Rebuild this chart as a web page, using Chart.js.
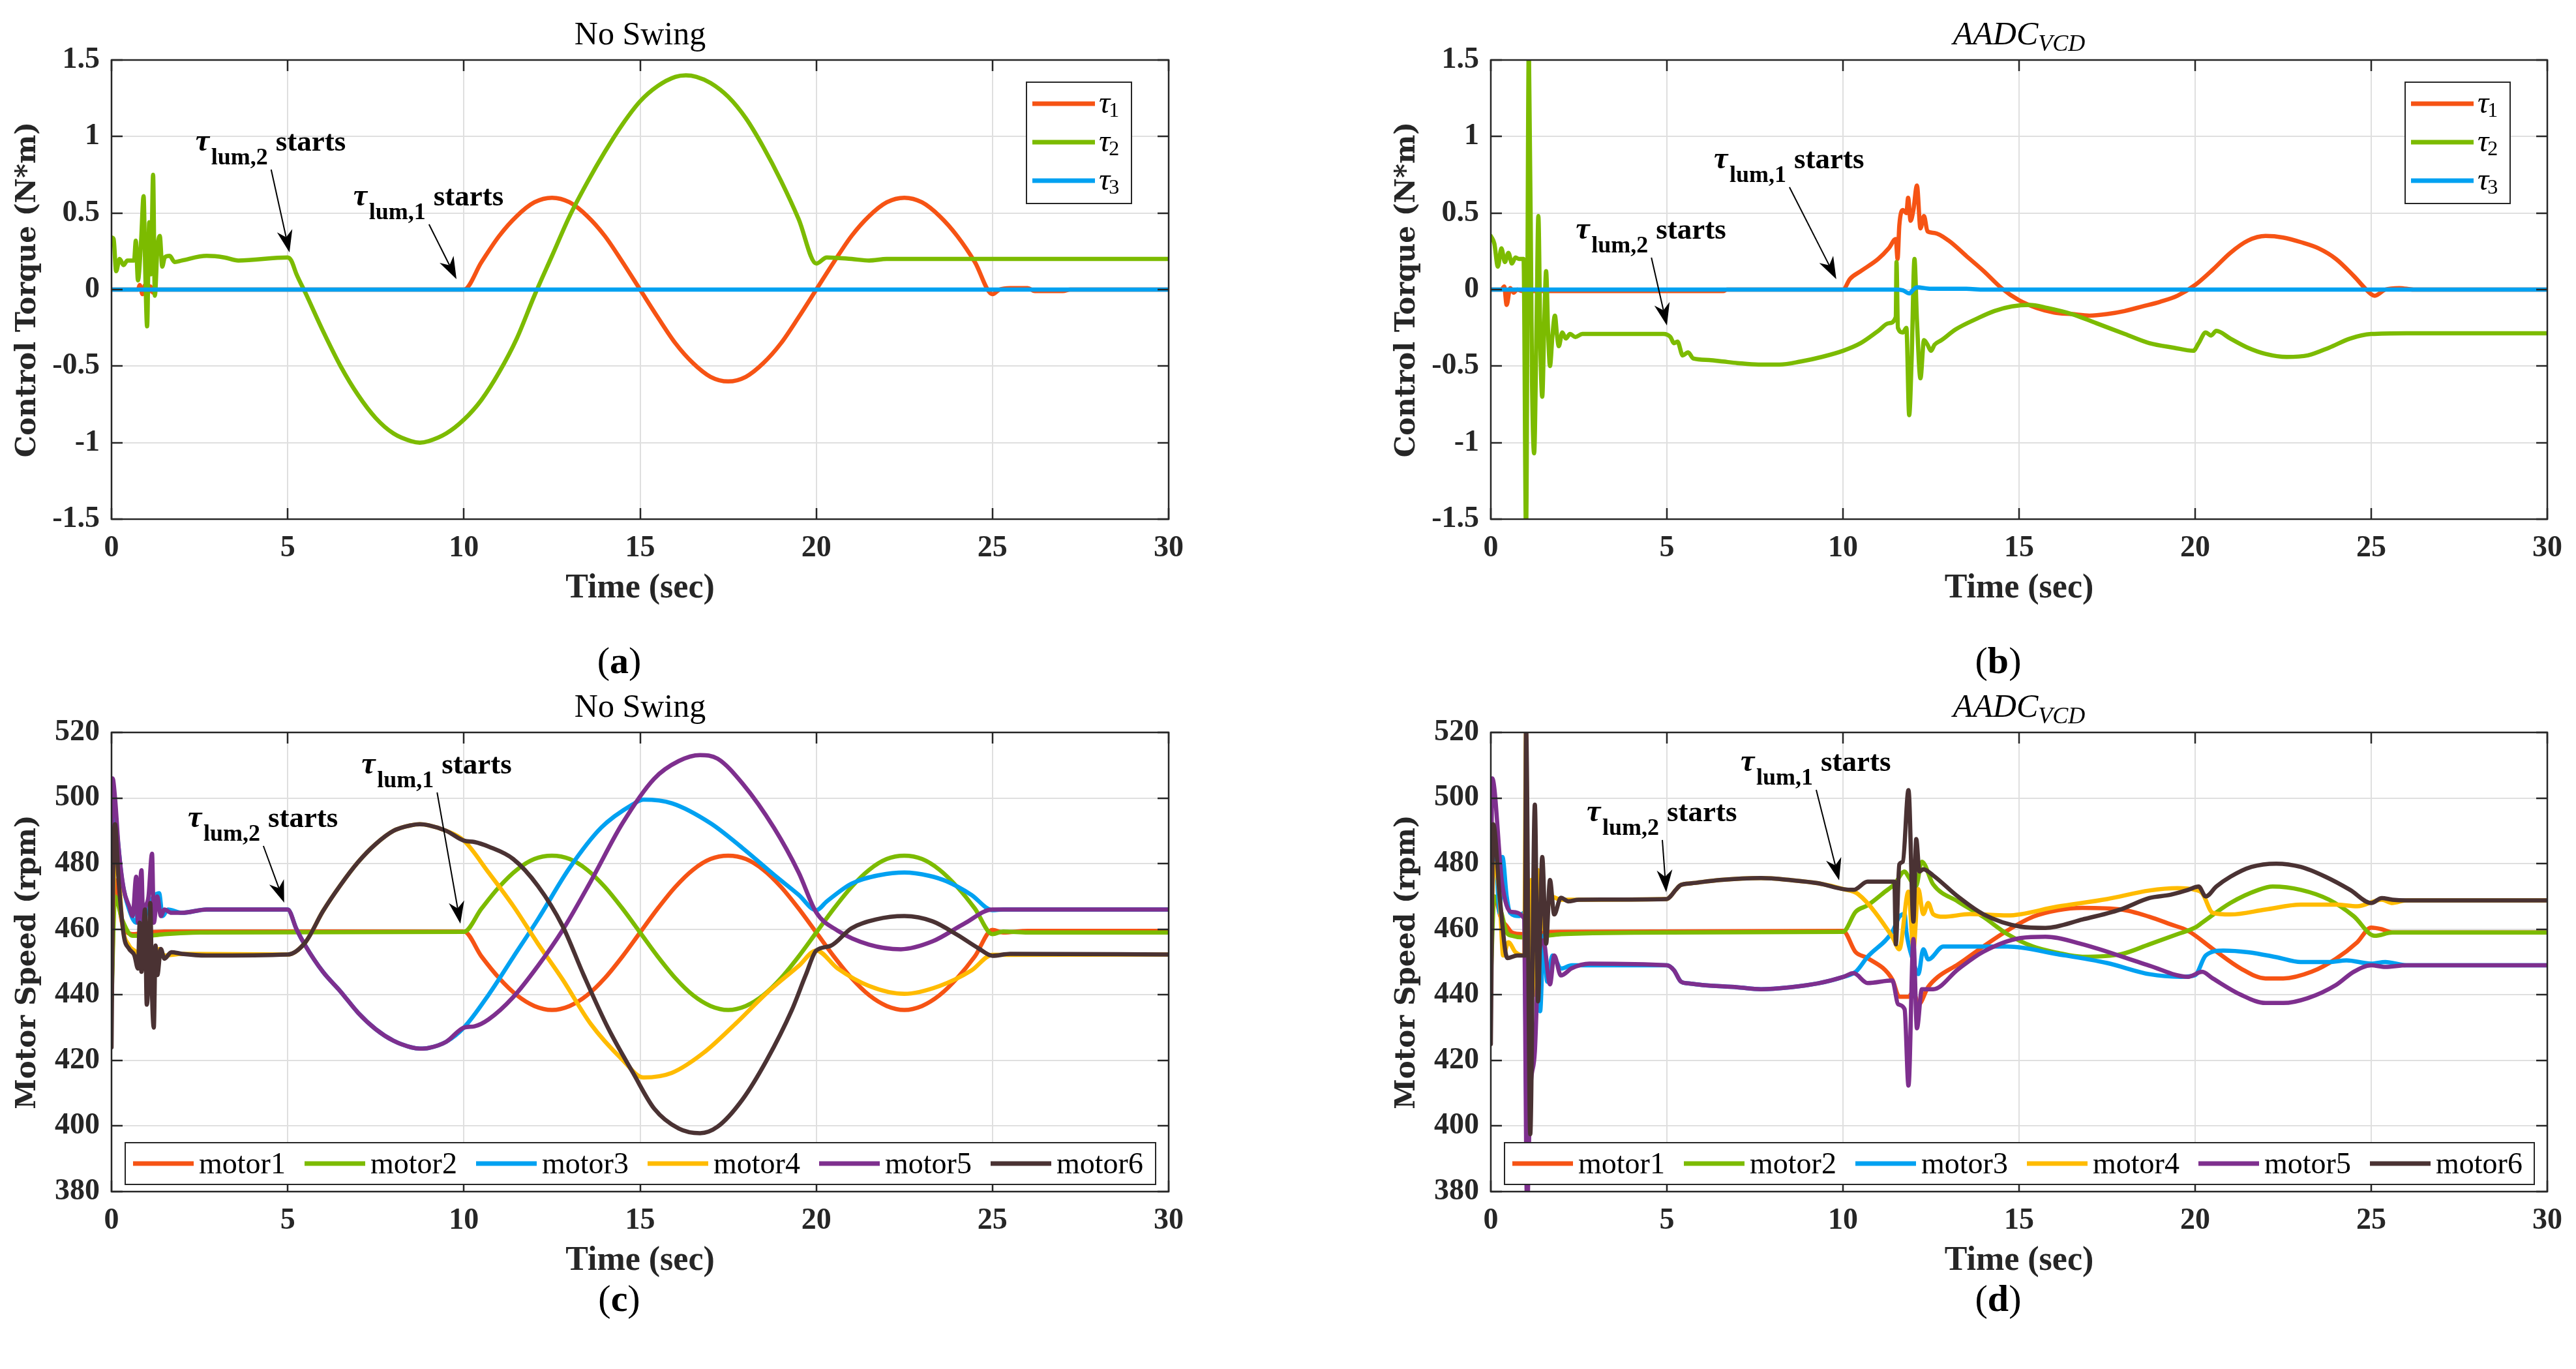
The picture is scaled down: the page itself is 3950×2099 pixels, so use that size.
<!DOCTYPE html>
<html>
<head>
<meta charset="utf-8">
<script src="https://cdn.jsdelivr.net/npm/chart.js@4.4.0/dist/chart.umd.min.js"></script>
<style>
    html, body { margin: 0; padding: 0; background: #ffffff; }
    body { width: 3950px; height: 2099px; position: relative; overflow: hidden; }
    canvas { position: absolute; }
</style>
</head>
<body>
<canvas id="painelA" width="1975" height="1050" style="left:0px;top:0px"></canvas>
<canvas id="painelB" width="1975" height="1050" style="left:1975px;top:0px"></canvas>
<canvas id="painelC" width="1975" height="1049" style="left:0px;top:1050px"></canvas>
<canvas id="painelD" width="1975" height="1049" style="left:1975px;top:1050px"></canvas>
<script>
/* Rótulos dos eixos (valores das marcas) */
const ticksTempo = [0, 5, 10, 15, 20, 25, 30];
const ticksTorque = [-1.5, -1, -0.5, 0, 0.5, 1, 1.5];
const ticksVelocidade = [380, 400, 420, 440, 460, 480, 500, 520];

/* Nomes das séries */
const nomesTorque = ["τ1", "τ2", "τ3"];
const nomesMotores = ["motor1", "motor2", "motor3", "motor4", "motor5", "motor6"];

/* (a) Torque de controle, sem balanço: pares [tempo, valor] */
const tau1SemBalanco = [[0,0],[0.75,0],[0.8,0.03],[0.88,-0.03],[0.95,0.03],[1.02,-0.03],[1.1,0.02],[1.18,-0.02],[1.25,0],[10,0],[10.5,0.18],[11,0.35],[11.5,0.48],[12,0.57],[12.5,0.6],[13,0.57],[13.5,0.48],[14,0.35],[14.5,0.18],[15,0],[15.5,-0.18],[16,-0.35],[16.5,-0.48],[17,-0.57],[17.5,-0.6],[18,-0.57],[18.5,-0.48],[19,-0.35],[19.5,-0.18],[20,0],[20.5,0.18],[21,0.35],[21.5,0.48],[22,0.57],[22.5,0.6],[23,0.57],[23.5,0.48],[24,0.35],[24.5,0.18],[25,-0.03],[25.2,0],[25.5,0.01],[26,0.01],[26.2,-0.01],[27,-0.01],[27.2,0],[30,0]];
const tau2SemBalanco = [[0,0.34],[0.06,0.33],[0.13,0.12],[0.23,0.2],[0.34,0.16],[0.45,0.19],[0.64,0.19],[0.69,0.32],[0.75,0.06],[0.84,0.32],[0.91,0.61],[0.96,0.1],[1.01,-0.24],[1.07,0.44],[1.12,0.1],[1.18,0.75],[1.23,-0.04],[1.3,0.26],[1.37,0.35],[1.44,0.15],[1.51,0.21],[1.65,0.22],[1.79,0.18],[2,0.19],[2.7,0.22],[3.2,0.21],[3.6,0.19],[5,0.21],[5.1,0.19],[5.25,0.1],[5.5,-0.02],[6,-0.27],[6.5,-0.5],[7,-0.69],[7.5,-0.84],[8,-0.94],[8.5,-0.99],[8.75,-1.0],[9,-0.99],[9.5,-0.94],[10,-0.85],[10.5,-0.72],[11,-0.54],[11.5,-0.32],[12,-0.04],[12.5,0.22],[13,0.48],[13.5,0.7],[14,0.9],[14.5,1.08],[15,1.23],[15.5,1.33],[16,1.39],[16.3,1.4],[16.6,1.39],[17,1.35],[17.5,1.26],[18,1.12],[18.5,0.93],[19,0.71],[19.5,0.46],[20,0.17],[20.3,0.21],[21,0.2],[21.5,0.19],[22,0.2],[30,0.2]];
const tau3SemBalanco = [[0,0],[30,0]];

/* (b) Torque de controle, AADC_VCD */
const tau1Aadc = [[0,0],[0.3,0],[0.38,0.02],[0.45,-0.1],[0.55,0.01],[0.65,-0.02],[0.75,0],[0.9,-0.01],[6.6,-0.01],[6.7,0],[10,0],[10.2,0.07],[10.5,0.12],[11,0.2],[11.3,0.27],[11.5,0.33],[11.55,0.2],[11.6,0.42],[11.7,0.52],[11.8,0.5],[11.85,0.6],[11.92,0.45],[12,0.52],[12.1,0.68],[12.2,0.4],[12.3,0.48],[12.4,0.38],[12.6,0.37],[13,0.32],[13.5,0.22],[14,0.12],[14.5,0.01],[15,-0.07],[15.5,-0.12],[16,-0.15],[16.5,-0.16],[17,-0.17],[17.5,-0.16],[18,-0.14],[18.5,-0.11],[19,-0.08],[19.5,-0.04],[20,0.03],[20.5,0.13],[21,0.24],[21.5,0.32],[22,0.35],[22.5,0.34],[23,0.31],[23.5,0.27],[24,0.2],[24.5,0.09],[25,-0.03],[25.1,-0.04],[25.4,0],[25.8,0.01],[26.2,0],[30,0]];
const tau2Aadc = [[0,0.35],[0.1,0.3],[0.2,0.15],[0.3,0.27],[0.4,0.18],[0.5,0.24],[0.6,0.17],[0.7,0.21],[0.8,0.2],[0.93,0.2],[1,-1.6],[1.08,1.6],[1.17,-0.6],[1.23,-1.07],[1.3,-0.2],[1.35,0.48],[1.41,-0.4],[1.46,-0.7],[1.52,-0.2],[1.57,0.12],[1.63,-0.3],[1.68,-0.5],[1.75,-0.3],[1.82,-0.17],[1.88,-0.3],[1.93,-0.37],[2.03,-0.28],[2.13,-0.32],[2.25,-0.29],[2.4,-0.31],[2.6,-0.29],[3,-0.29],[4.9,-0.29],[5.1,-0.31],[5.2,-0.35],[5.3,-0.34],[5.45,-0.43],[5.6,-0.41],[5.75,-0.45],[6.2,-0.46],[6.6,-0.47],[7,-0.48],[7.6,-0.49],[8.2,-0.49],[8.8,-0.47],[9.4,-0.44],[10,-0.4],[10.5,-0.35],[11,-0.27],[11.3,-0.22],[11.5,-0.18],[11.52,0.18],[11.56,-0.25],[11.7,-0.28],[11.8,-0.25],[11.88,-0.82],[11.95,-0.45],[12.03,0.2],[12.1,-0.2],[12.2,-0.58],[12.3,-0.33],[12.4,-0.36],[12.5,-0.4],[12.6,-0.36],[12.8,-0.33],[13.2,-0.26],[13.8,-0.19],[14.3,-0.14],[14.8,-0.11],[15.3,-0.1],[15.8,-0.12],[16.5,-0.16],[17.2,-0.22],[18,-0.29],[18.7,-0.35],[19.4,-0.38],[19.95,-0.4],[20.1,-0.35],[20.3,-0.28],[20.45,-0.3],[20.6,-0.27],[21,-0.32],[21.5,-0.38],[22,-0.42],[22.6,-0.44],[23.2,-0.43],[23.8,-0.38],[24.4,-0.32],[25,-0.29],[26,-0.285],[30,-0.285]];
const tau3Aadc = [[0,0],[11.5,0],[11.7,-0.005],[11.88,-0.025],[12,0],[12.1,0.015],[12.5,0.005],[13.5,0.005],[14,0],[30,0]];

/* (c) Velocidade dos motores, sem balanço */
const motor1SemBalanco = [[0,440],[0.1,475],[0.3,462],[0.6,458.5],[1,459],[1.5,459.3],[10,459.3],[10.5,451.7],[11,445.1],[11.5,439.9],[12,436.6],[12.5,435.4],[13,436.6],[13.5,439.9],[14,445.1],[14.5,451.7],[15,459],[15.5,466.3],[16,472.9],[16.5,478.1],[17,481.4],[17.5,482.4],[18,481.4],[18.5,478.1],[19,472.9],[19.5,466.3],[20,459],[20.5,451.7],[21,445.1],[21.5,439.9],[22,436.6],[22.5,435.4],[23,436.6],[23.5,439.9],[24,445.1],[24.5,451.7],[25,459.8],[25.3,459],[26,459.5],[30,459.5]];
const motor2SemBalanco = [[0,438],[0.1,470],[0.3,463],[0.6,458],[1,458],[1.5,458.5],[2.5,459],[10,459.2],[10.5,466.3],[11,472.9],[11.5,478.1],[12,481.4],[12.5,482.4],[13,481.4],[13.5,478.1],[14,472.9],[14.5,466.3],[15,459],[15.5,451.7],[16,445.1],[16.5,439.9],[17,436.6],[17.5,435.4],[18,436.6],[18.5,439.9],[19,445.1],[19.5,451.7],[20,459],[20.5,466.3],[21,472.9],[21.5,478.1],[22,481.4],[22.5,482.4],[23,481.4],[23.5,478.1],[24,472.9],[24.5,466.3],[25,458.5],[25.3,459.3],[26,459],[30,459]];
const motor3SemBalanco = [[0,450],[0.03,500],[0.15,490],[0.3,475],[0.5,466],[0.7,462],[0.8,475],[0.9,460],[1,466],[1.2,470],[1.35,471],[1.45,464],[1.6,466],[2,465],[2.7,466],[5,466],[5.25,460],[5.5,455],[6,447],[6.5,441],[7,434.5],[7.5,429.5],[8,426],[8.5,424],[8.75,423.6],[9,423.8],[9.5,425.7],[10,430],[10.7,440],[11.4,451.5],[12.1,463],[13,478.7],[13.9,491],[14.8,498.1],[15.1,499.5],[15.9,498.4],[17,492.3],[17.9,484.8],[18.8,476.6],[19.5,470.5],[20,465.8],[20.3,468.5],[21,473.9],[21.8,476.5],[22.5,477.3],[23.2,476.3],[23.7,474.6],[24.4,470.5],[25,465.8],[25.3,466],[30,466]];
const motor4SemBalanco = [[0,440],[0.05,470],[0.15,485],[0.3,462],[0.5,455],[0.7,453],[0.85,450],[1,455],[1.2,448],[1.35,454],[1.5,452],[2,452.5],[5,452.3],[5.5,456],[6,465.5],[6.5,473.5],[7,480.5],[7.5,486],[8,490],[8.5,491.7],[8.75,492],[9,491.7],[9.5,490],[10,487],[10.7,477.3],[11.4,467.1],[12.1,455.6],[12.8,444.7],[13.6,431.1],[14.5,420.2],[15.1,414.8],[15.9,416.2],[16.8,422.3],[17.7,431.1],[18.6,440.6],[19.5,448.8],[20,453.5],[20.6,448.1],[21.5,442.7],[22.5,440.3],[23.5,442.7],[24.4,447.4],[25,452.2],[30,452.3]];
const motor5SemBalanco = [[0,450],[0.03,506],[0.1,500],[0.2,485],[0.35,472],[0.5,467],[0.6,464],[0.7,476],[0.75,462],[0.85,478],[0.9,461],[0.95,466],[1.05,470],[1.15,483],[1.2,462],[1.3,470],[1.4,464],[1.5,466],[1.7,465],[2,465],[2.7,466],[5,466],[5.25,460],[5.5,455],[6,447],[6.5,441],[7,434.5],[7.5,429.5],[8,426],[8.5,424],[8.75,423.6],[9,423.8],[9.5,425.7],[10,430],[10.3,430.4],[10.7,432.5],[11.4,439.3],[12.1,448.8],[12.8,459.7],[13.6,474.6],[14.5,492.3],[15.4,505.9],[16.1,511.3],[16.7,513.1],[17.2,512],[17.9,504.5],[18.8,490.9],[19.5,477.3],[20,465.1],[20.6,459.6],[21.5,455.3],[22.4,453.9],[23.3,456.3],[24.2,461.7],[25,466],[30,466]];
const motor6SemBalanco = [[0,424],[0.05,480],[0.1,492],[0.2,475],[0.35,458],[0.5,454],[0.65,452],[0.75,448],[0.8,462],[0.85,447],[0.95,466],[1,437],[1.05,445],[1.1,468],[1.15,440],[1.2,430],[1.25,455],[1.3,446],[1.4,454],[1.5,451],[1.7,453],[2,452.5],[2.7,452],[5,452.3],[5.5,456],[6,465.5],[6.5,473.5],[7,480.5],[7.5,486],[8,490],[8.5,491.7],[8.75,492],[9,491.7],[9.5,490],[10,487],[10.3,486.6],[10.7,485.2],[11.4,481.4],[12.1,473.2],[12.8,461],[13.4,446],[14.1,429.7],[14.8,416.2],[15.4,405.3],[16.1,399.2],[16.7,397.8],[17.2,399.8],[17.9,408],[18.6,420.2],[19.3,435.2],[19.7,446],[20,453.5],[20.4,454.9],[21,460.3],[21.7,463],[22.5,464],[23.3,462.4],[24,458.3],[24.6,454.2],[25,451.9],[25.5,452.5],[30,452.3]];

/* (d) Velocidade dos motores, AADC_VCD */
const motor1Aadc = [[0,455],[0.1,470],[0.3,463],[0.45,461],[0.6,459],[0.9,458.5],[1.1,460],[1.3,458],[1.5,459],[2,459.2],[10,459.5],[10.36,453],[10.7,451.2],[11.4,444.7],[11.6,439.4],[11.86,439.4],[12,441],[12.14,437],[12.42,442.4],[12.7,445.5],[13.27,449.3],[13.98,454.7],[14.67,459.6],[15.4,463.8],[16.1,465.8],[16.8,466.5],[17.9,466],[18.7,463.8],[19.3,461.5],[19.8,459.5],[20.5,454],[21.3,448],[22,445],[22.5,445],[23.3,447],[24,451],[24.6,456],[25,460.5],[25.3,460],[25.6,459],[30,459]];
const motor2Aadc = [[0,445],[0.1,470],[0.3,465],[0.45,459],[0.6,458],[0.9,457.5],[1.1,458],[1.5,458],[2,458.5],[5,459],[10,459.2],[10.36,465.3],[10.7,467.3],[11.2,471.5],[11.46,473.7],[11.75,477.6],[11.86,476],[12.07,473],[12.24,480.6],[12.56,473.7],[13.27,468.4],[13.98,463.8],[14.67,458.5],[15.4,454.7],[16.1,452.8],[16.8,451.6],[17.9,452.4],[18.7,455.4],[19.5,458.5],[20,460.5],[20.2,462],[21,468],[21.8,472],[22.2,473],[23,472],[23.8,469],[24.5,464],[25.1,458],[25.6,459],[30,459]];
const motor3Aadc = [[0,470],[0.1,490],[0.25,465],[0.33,482],[0.45,470],[0.55,465],[0.8,464],[0.95,465],[1.02,400],[1.1,470],[1.2,440],[1.3,475],[1.4,435],[1.5,458],[1.6,444],[1.75,452],[2,448],[2.3,449],[5,449],[5.2,447.5],[5.4,444],[5.6,443.5],[6,443],[7,442.3],[7.67,441.7],[8.5,442.3],[9.3,443.5],[10.02,445.5],[10.36,447],[10.7,451.6],[11.4,459.2],[11.6,463.8],[11.75,464.6],[11.8,459.2],[12,450.1],[12.14,446.3],[12.28,453.9],[12.42,450.8],[12.85,454.7],[13.98,454.7],[14.67,454.7],[16.09,452.4],[17.5,449.7],[18.7,446.3],[19.6,445.5],[20,446],[20.3,452],[20.8,453.5],[21.5,453],[22.3,451.5],[23,450],[23.8,450],[24.3,450.5],[25,449.5],[25.4,450],[26,449],[30,449]];
const motor4Aadc = [[0,460],[0.1,480],[0.25,470],[0.35,452],[0.5,456],[0.7,453],[0.95,452],[1,520],[1.07,410],[1.15,475],[1.25,440],[1.35,478],[1.5,460],[1.7,470],[2,469],[5,469.2],[5.1,470],[5.25,472],[5.4,473.5],[5.7,474],[6.5,475],[7.67,475.6],[8.5,475],[9.3,474],[10.02,472.2],[10.43,470.7],[11.4,457.7],[11.6,453.9],[11.86,471.5],[12,453.9],[12.14,472.2],[12.28,464.6],[12.42,468],[12.56,464.6],[12.85,463.8],[13.6,464.6],[14.67,464.2],[16.09,466.9],[17.5,469.2],[18.7,471.8],[19.5,472.5],[20,472],[20.2,471],[20.5,465],[21,464.5],[22,466],[23,467.5],[24,467.5],[24.6,467],[25.3,469],[25.6,468],[26,468.8],[30,468.8]];
const motor5Aadc = [[0,450],[0.04,506],[0.32,474],[0.57,465.3],[0.94,463.4],[1.03,375],[1.12,410],[1.25,422.7],[1.35,450],[1.49,456.6],[1.68,443.2],[1.8,452],[1.99,445.9],[2.3,448.1],[2.8,449.5],[5,449],[5.2,447.5],[5.4,444],[5.6,443.5],[6,443],[7,442.3],[7.67,441.7],[8.5,442.3],[9.3,443.5],[10.02,445.5],[10.3,446.6],[10.7,443.6],[11.4,444.4],[11.57,437.1],[11.75,435.6],[11.86,412.3],[12,457],[12.1,429.8],[12.24,441.7],[12.56,441.7],[13.27,447.8],[13.98,453.1],[15.04,457.3],[15.75,457.7],[16.81,455.4],[18.7,448.9],[19.8,445.5],[20.2,447],[20.5,445],[21.3,440],[22,437.5],[22.5,437.5],[23.2,439],[24,443],[24.5,447],[25,449],[25.4,448.5],[26,449],[30,449]];
const motor6Aadc = [[0,425],[0.07,492],[0.26,469],[0.47,451.2],[0.75,452],[0.97,452],[1,522],[1.12,397.5],[1.25,498],[1.34,438],[1.46,482],[1.57,455.6],[1.68,475],[1.8,464.5],[1.99,469.6],[2.2,468.5],[2.5,469],[5,469.2],[5.1,470],[5.25,472],[5.4,473.5],[5.7,474],[6.5,475],[7.67,475.6],[8.5,475],[9.3,474],[10.02,472.2],[10.3,472],[10.7,474.5],[11.46,474.5],[11.5,455.4],[11.6,479.8],[11.7,480.6],[11.86,502.4],[12,462.3],[12.08,487.5],[12.17,477.6],[12.28,478.3],[12.56,476.4],[13.27,469.9],[13.98,464.6],[15.04,460.8],[15.75,460.4],[16.81,463],[17.87,466],[18.7,469.5],[19.3,470.5],[19.8,472],[20.1,473],[20.3,470],[20.6,473],[21,476],[21.6,479],[22.3,480],[23,479],[23.7,476],[24.4,472],[25,468],[25.3,469.5],[25.6,469],[26,468.8],[30,468.8]];

/* Cores das séries */
const cores = ["#f65314", "#7cbb00", "#00a1f1", "#ffbb00", "#7e2f8e", "#4a3233"];
const corTexto = "#262626";
const fonteSerif = "\"Liberation Serif\", \"Times New Roman\", serif";

/* Desenha a seta com o texto "τ lum,n starts" */
function desenharSeta(ctx, x, y, an) {
    const x1 = x.getPixelForValue(an.cauda[0]), y1 = y.getPixelForValue(an.cauda[1]);
    const x2 = x.getPixelForValue(an.ponta[0]), y2 = y.getPixelForValue(an.ponta[1]);
    const ang = Math.atan2(y2 - y1, x2 - x1);
    const c = Math.cos(ang), s = Math.sin(ang);
    const comp = 34, larg = 12;
    ctx.strokeStyle = "#000";
    ctx.lineWidth = 2;
    ctx.beginPath();
    ctx.moveTo(x1, y1);
    ctx.lineTo(x2 - comp * 0.7 * c, y2 - comp * 0.7 * s);
    ctx.stroke();
    // ponta da seta (triângulo com recorte)
    ctx.fillStyle = "#000";
    ctx.beginPath();
    ctx.moveTo(x2, y2);
    ctx.lineTo(x2 - comp * c + larg * s, y2 - comp * s - larg * c);
    ctx.lineTo(x2 - comp * 0.7 * c, y2 - comp * 0.7 * s);
    ctx.lineTo(x2 - comp * c - larg * s, y2 - comp * s + larg * c);
    ctx.closePath();
    ctx.fill();
    // texto
    const tx = x1 - 116, ty = y1 - 29;
    ctx.textAlign = "left";
    ctx.textBaseline = "alphabetic";
    ctx.font = "italic bold 48px " + fonteSerif;
    ctx.fillText("τ", tx, ty);
    ctx.font = "bold 36px " + fonteSerif;
    ctx.fillText(an.sub, tx + 24, ty + 21);
    ctx.font = "bold 45px " + fonteSerif;
    ctx.fillText("starts", tx + 123, ty);
}

/* Legenda em caixa (τ1, τ2, τ3) no canto superior direito */
function legendaCaixa(chart) {
    const { ctx, chartArea: a } = chart;
    const bx = a.right - 218, by = a.top + 34, bw = 161, bh = 186;
    ctx.fillStyle = "#fff";
    ctx.fillRect(bx, by, bw, bh);
    ctx.strokeStyle = corTexto;
    ctx.lineWidth = 2;
    ctx.strokeRect(bx, by, bw, bh);
    chart.data.datasets.forEach((ds, i) => {
        const yy = by + 33 + i * 59;
        ctx.strokeStyle = ds.borderColor;
        ctx.lineWidth = 7;
        ctx.beginPath();
        ctx.moveTo(bx + 9, yy);
        ctx.lineTo(bx + 105, yy);
        ctx.stroke();
        ctx.fillStyle = "#000";
        ctx.textAlign = "left";
        ctx.textBaseline = "alphabetic";
        ctx.font = "italic 48px " + fonteSerif;
        const wt = ctx.measureText(ds.label.charAt(0)).width;
        ctx.fillText(ds.label.charAt(0), bx + 111, yy + 14);
        ctx.font = "32px " + fonteSerif;
        ctx.fillText(ds.label.slice(1), bx + 111 + wt - 2, yy + 20);
    });
}

/* Legenda horizontal (motores) na parte inferior */
function legendaLinha(chart) {
    const { ctx, chartArea: a } = chart;
    const bx = a.left + 21, by = a.bottom - 75, bw = a.right - 20 - bx, bh = 64;
    ctx.fillStyle = "#fff";
    ctx.fillRect(bx, by, bw, bh);
    ctx.strokeStyle = corTexto;
    ctx.lineWidth = 2;
    ctx.strokeRect(bx, by, bw, bh);
    chart.data.datasets.forEach((ds, i) => {
        const x0 = bx + 12 + i * 263, yy = by + 32;
        ctx.strokeStyle = ds.borderColor;
        ctx.lineWidth = 7;
        ctx.beginPath();
        ctx.moveTo(x0, yy);
        ctx.lineTo(x0 + 93, yy);
        ctx.stroke();
        ctx.fillStyle = "#000";
        ctx.textAlign = "left";
        ctx.textBaseline = "alphabetic";
        ctx.font = "46px " + fonteSerif;
        ctx.fillText(ds.label, x0 + 101, yy + 15);
    });
}

/* Plugin com caixa, marcas internas, setas, legendas, títulos e rótulo (a)-(d) */
const pluginMatlab = {
    id: "matlab",
    afterDatasetsDraw(chart, args, op) {
        const { ctx, chartArea: a, scales: { x, y } } = chart;
        ctx.save();
        ctx.strokeStyle = corTexto;
        ctx.lineWidth = 2.5;
        ctx.beginPath();
        x.ticks.forEach((t) => {
            const px = Math.round(x.getPixelForValue(t.value));
            ctx.moveTo(px, a.bottom); ctx.lineTo(px, a.bottom - 17);
            ctx.moveTo(px, a.top); ctx.lineTo(px, a.top + 17);
        });
        y.ticks.forEach((t) => {
            const py = Math.round(y.getPixelForValue(t.value));
            ctx.moveTo(a.left, py); ctx.lineTo(a.left + 17, py);
            ctx.moveTo(a.right, py); ctx.lineTo(a.right - 17, py);
        });
        ctx.stroke();
        ctx.strokeRect(a.left, a.top, a.right - a.left, a.bottom - a.top);
        op.anotacoes.forEach((an) => desenharSeta(ctx, x, y, an));
        if (op.legenda === "caixa") legendaCaixa(chart); else legendaLinha(chart);
        ctx.restore();
    },
    afterDraw(chart, args, op) {
        const { ctx, chartArea: a } = chart;
        const cx = (a.left + a.right) / 2;
        ctx.save();
        ctx.fillStyle = "#000";
        ctx.textBaseline = "alphabetic";
        ctx.textAlign = "left";
        // título
        if (op.titulo.sub) {
            ctx.font = "italic 50px " + fonteSerif;
            const w1 = ctx.measureText(op.titulo.texto).width;
            ctx.font = "italic 36px " + fonteSerif;
            const w2 = ctx.measureText(op.titulo.sub).width;
            const x0 = cx - (w1 + w2) / 2;
            ctx.font = "italic 50px " + fonteSerif;
            ctx.fillText(op.titulo.texto, x0, a.top - 24);
            ctx.font = "italic 36px " + fonteSerif;
            ctx.fillText(op.titulo.sub, x0 + w1, a.top - 14);
        } else {
            ctx.font = "50px " + fonteSerif;
            ctx.textAlign = "center";
            ctx.fillText(op.titulo.texto, cx, a.top - 24);
        }
        // rótulo do painel
        ctx.textAlign = "left";
        ctx.font = "58px " + fonteSerif;
        const wp = ctx.measureText("(").width;
        ctx.font = "bold 58px " + fonteSerif;
        const wl = ctx.measureText(op.painel).width;
        const px0 = cx - 32 - (2 * wp + wl) / 2;
        const py0 = a.bottom + op.deslocRotulo + 20;
        ctx.font = "58px " + fonteSerif;
        ctx.fillText("(", px0, py0);
        ctx.fillText(")", px0 + wp + wl, py0);
        ctx.font = "bold 58px " + fonteSerif;
        ctx.fillText(op.painel, px0 + wp, py0);
        ctx.restore();
    }
};

/* Cria um painel com Chart.js */
function criarPainel(id, cfg) {
    const canvas = document.getElementById(id);
    const W = canvas.width, H = canvas.height;
    const a = cfg.area;
    const n = cfg.series.length;
    new Chart(canvas, {
        type: "line",
        data: {
            datasets: cfg.series.map((s, i) => ({
                label: cfg.nomes[i],
                data: s.map((p) => ({ x: p[0], y: p[1] })),
                borderColor: cores[i],
                backgroundColor: cores[i],
                borderWidth: 6.5,
                pointRadius: 0,
                fill: false,
                cubicInterpolationMode: "monotone",
                borderJoinStyle: "round",
                borderCapStyle: "round",
                order: n - i,
            })),
        },
        options: {
            responsive: false,
            animation: false,
            devicePixelRatio: 1,
            layout: { padding: { left: a.l - 161, top: a.t, right: W - a.r, bottom: H - a.b - 150 } },
            scales: {
                x: {
                    type: "linear",
                    min: 0,
                    max: 30,
                    afterFit: (s) => { s.height = 150; },
                    afterBuildTicks: (s) => { s.ticks = ticksTempo.map((v) => ({ value: v })); },
                    grid: { color: "#dfdfdf", lineWidth: 2, drawTicks: false },
                    border: { display: false },
                    ticks: {
                        font: { family: fonteSerif, size: 46, weight: "bold" },
                        color: corTexto, padding: 18, maxRotation: 0, autoSkip: false,
                        callback: (v) => String(v),
                    },
                    title: {
                        display: true, text: "Time (sec)", color: corTexto,
                        font: { family: fonteSerif, size: 52, weight: "bold" },
                        padding: { top: 0, bottom: 12 },
                    },
                },
                y: {
                    type: "linear",
                    min: cfg.yMin,
                    max: cfg.yMax,
                    afterFit: (s) => { s.width = 161; },
                    afterBuildTicks: (s) => { s.ticks = cfg.ticksY.map((v) => ({ value: v })); },
                    grid: { color: "#dfdfdf", lineWidth: 2, drawTicks: false },
                    border: { display: false },
                    ticks: {
                        font: { family: fonteSerif, size: 46, weight: "bold" },
                        color: corTexto, padding: 18, autoSkip: false,
                        callback: (v) => String(v),
                    },
                    title: {
                        display: true, text: cfg.tituloY, color: corTexto,
                        font: { family: "\"DejaVu Serif\", serif", size: 42, weight: "bold" },
                        padding: { top: 8, bottom: 0 },
                    },
                },
            },
            plugins: {
                legend: { display: false },
                tooltip: { enabled: false },
                matlab: {
                    anotacoes: cfg.anotacoes,
                    legenda: cfg.legenda,
                    titulo: cfg.titulo,
                    painel: cfg.painel,
                    deslocRotulo: cfg.deslocRotulo,
                },
            },
        },
        plugins: [pluginMatlab],
    });
}

criarPainel("painelA", {
    area: { l: 171, t: 92, r: 1792, b: 796 },
    series: [tau1SemBalanco, tau2SemBalanco, tau3SemBalanco],
    nomes: nomesTorque,
    yMin: -1.5, yMax: 1.5, ticksY: ticksTorque,
    tituloY: "Control Torque (N*m)",
    titulo: { texto: "No Swing" },
    legenda: "caixa",
    painel: "a", deslocRotulo: 216,
    anotacoes: [
        { cauda: [4.53, 0.784], ponta: [5.05, 0.243], sub: "lum,2" },
        { cauda: [9.01, 0.426], ponta: [9.79, 0.068], sub: "lum,1" },
    ],
});

criarPainel("painelB", {
    area: { l: 311, t: 92, r: 1931, b: 796 },
    series: [tau1Aadc, tau2Aadc, tau3Aadc],
    nomes: nomesTorque,
    yMin: -1.5, yMax: 1.5, ticksY: ticksTorque,
    tituloY: "Control Torque (N*m)",
    titulo: { texto: "AADC", sub: "VCD" },
    legenda: "caixa",
    painel: "b", deslocRotulo: 216,
    anotacoes: [
        { cauda: [8.48, 0.669], ponta: [9.81, 0.068], sub: "lum,1" },
        { cauda: [4.56, 0.209], ponta: [5.0, -0.234], sub: "lum,2" },
    ],
});

criarPainel("painelC", {
    area: { l: 171, t: 73, r: 1792, b: 777 },
    series: [motor1SemBalanco, motor2SemBalanco, motor3SemBalanco, motor4SemBalanco, motor5SemBalanco, motor6SemBalanco],
    nomes: nomesMotores,
    yMin: 380, yMax: 520, ticksY: ticksVelocidade,
    tituloY: "Motor Speed (rpm)",
    titulo: { texto: "No Swing" },
    legenda: "linha",
    painel: "c", deslocRotulo: 163,
    anotacoes: [
        { cauda: [4.31, 485.4], ponta: [4.9, 468.1], sub: "lum,2" },
        { cauda: [9.24, 501.7], ponta: [9.9, 461.7], sub: "lum,1" },
    ],
});

criarPainel("painelD", {
    area: { l: 311, t: 73, r: 1931, b: 777 },
    series: [motor1Aadc, motor2Aadc, motor3Aadc, motor4Aadc, motor5Aadc, motor6Aadc],
    nomes: nomesMotores,
    yMin: 380, yMax: 520, ticksY: ticksVelocidade,
    tituloY: "Motor Speed (rpm)",
    titulo: { texto: "AADC", sub: "VCD" },
    legenda: "linha",
    painel: "d", deslocRotulo: 163,
    anotacoes: [
        { cauda: [4.87, 487.2], ponta: [4.98, 471.3], sub: "lum,2" },
        { cauda: [9.24, 502.5], ponta: [9.89, 474.9], sub: "lum,1" },
    ],
});
</script>
</body>
</html>
